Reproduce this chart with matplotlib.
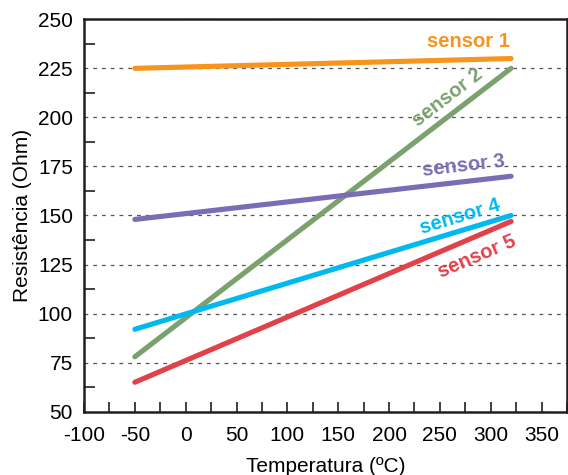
import numpy as np
import matplotlib
matplotlib.use("Agg")
import matplotlib.pyplot as plt
from matplotlib.ticker import MultipleLocator

plt.rcParams['font.family'] = ['Liberation Sans', 'DejaVu Sans']
plt.rcParams['axes.unicode_minus'] = False

temps = [-50, 320]
sensor_names = ["sensor 1", "sensor 2", "sensor 3", "sensor 4", "sensor 5"]
sensor1 = [225, 230]
sensor2 = [78, 225]
sensor3 = [148, 170]
sensor4 = [92, 150]
sensor5 = [65, 147]
colors = ["#F7941D", "#7BA16F", "#7B6CB4", "#00B9F0", "#E2414A"]
label_pos = [(278, 238.6), (258, 210), (273, 175.3), (270, 149.3), (286, 129)]

fig = plt.figure(figsize=(5.68, 4.75), dpi=100)
ax = fig.add_axes([84/568, 1-411.7/475, (567-84)/568, (411.7-19.3)/475])
ax.set_xlim(-100, 375)
ax.set_ylim(50, 250)

series = [sensor1, sensor2, sensor3, sensor4, sensor5]
for vals, c in zip(series, colors):
    ax.plot(temps, vals, color=c, lw=3.7, solid_capstyle='round', zorder=3)

fig.canvas.draw()
for name, vals, c, (lx, ly) in zip(sensor_names, series, colors, label_pos):
    p0 = ax.transData.transform((temps[0], vals[0]))
    p1 = ax.transData.transform((temps[1], vals[1]))
    ang = np.degrees(np.arctan2(p1[1]-p0[1], p1[0]-p0[0]))
    if name == "sensor 1":
        ang = 0
    ax.text(lx, ly, name, color=c, fontsize=14.5, fontweight='bold',
            rotation=ang, rotation_mode='anchor', ha='center', va='center', zorder=4)

ax.xaxis.set_major_locator(MultipleLocator(50))
ax.xaxis.set_minor_locator(MultipleLocator(25))
ax.yaxis.set_major_locator(MultipleLocator(25))
ax.yaxis.set_minor_locator(MultipleLocator(12.5))
ax.tick_params(axis='x', which='both', direction='in', length=7, width=1.2,
               color='#231F20', labelsize=15, pad=10)
ax.tick_params(axis='y', which='minor', direction='in', length=8, width=1.2, color='#231F20')
ax.tick_params(axis='y', which='major', length=0, labelsize=15, pad=8)
ax.grid(axis='y', which='major', linestyle=(0, (3, 4)), color='#555555', lw=0.9)
for s in ax.spines.values():
    s.set_linewidth(1.8)
    s.set_color('#231F20')

ax.set_xlabel("Temperatura (ºC)", fontsize=15, labelpad=9)
ax.set_ylabel("Resistência (Ohm)", fontsize=15, labelpad=4)

fig.savefig("out.png", dpi=100)
